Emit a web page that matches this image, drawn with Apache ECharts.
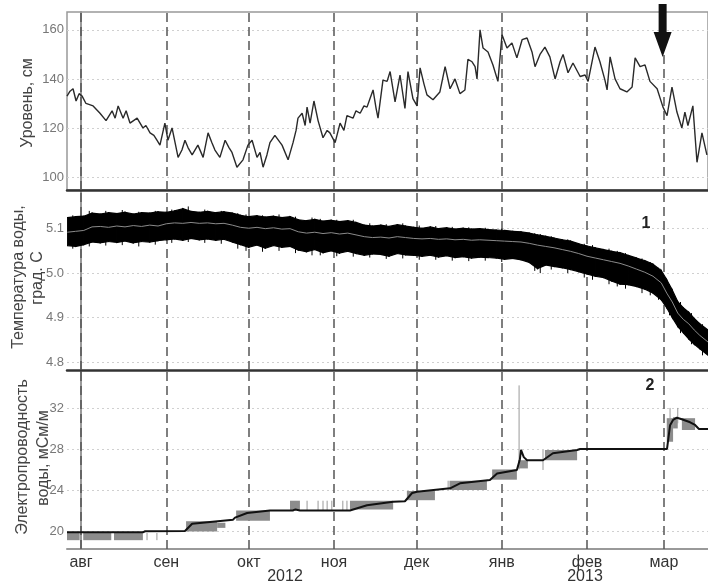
<!DOCTYPE html>
<html>
<head>
<meta charset="utf-8">
<script src="https://cdn.jsdelivr.net/npm/echarts@6/dist/echarts.min.js"></script>
<style>
  html, body { margin: 0; padding: 0; background: #fff; }
  #chart { width: 708px; height: 581px; }
</style>
</head>
<body>
<div id="chart"></div>
<script>
// x axis: days counted from 1 Aug 2012
const monthDays = [0, 31, 61, 92, 122, 153, 184, 212];
const monthLabels = ['авг', 'сен', 'окт', 'ноя', 'дек', 'янв', 'фев', 'мар'];
const levelTicks = [100, 120, 140, 160];
const tempTicks = [4.8, 4.9, 5.0, 5.1];
const condTicks = [20, 24, 28, 32];

// уровень, см
const levelDays = [-5.1, -4, -2.9, -1.8, -0.7, 0.4, 1.8, 4.4, 6.9, 9.1, 11.3, 12.4, 13.5, 15.3, 16.4, 17.8, 20.4, 22.5,
  23.6, 25.1, 26.5, 27.6, 28.7, 30.5, 31.6, 33.1, 34.2, 35.3, 36.7, 37.8, 38.9, 40.4, 42.5, 44.4, 46.2, 47.6, 48.7,
  50.5, 52.4, 53.8, 54.9, 56.7, 58.9, 60.7, 62.2, 64, 65.1, 66.2, 67.6, 68.7, 70.5, 73.1, 75.3, 77.1, 78.2, 78.9,
  80.4, 81.5, 82.2, 83.3, 84.7, 86.2, 88, 89.5, 90.5, 92.4, 94.2, 95.6, 96.7, 98.9, 100, 101.5, 102.9, 104, 105.1,
  106.2, 107.3, 108, 108.7, 109.8, 111.3, 112.4, 114.2, 116, 117.8, 118.9, 120.7, 122.2, 123.3, 124.7, 125.8, 128,
  130.5, 132.4, 134.2, 136, 137.8, 139.6, 140.7, 142.2, 143.3, 144, 145.1, 146.2, 148, 149.8, 151.6, 153.1, 154.9,
  156.7, 158.5, 160.4, 162.2, 164, 165.1, 166.9, 168.7, 170.5, 172.4, 174.2, 175.3, 177.1, 178.9, 181.5, 183.3,
  184.4, 186.9, 188.7, 190.5, 191.3, 192.4, 194.2, 196, 198.5, 200.4, 201.5, 203.3, 205.1, 206.9, 209.5, 211.6,
  213.1, 214.9, 216.7, 218.5, 219.6, 220.7, 222.5, 224, 225.8, 227.6];
const levelValues = [133, 135, 136, 131, 134, 133, 130, 129, 126, 123, 127, 124, 129, 124, 127, 122, 124, 120,
  121, 118, 117, 115, 113, 122, 115, 120, 114, 108, 111, 115, 112, 109, 113, 108, 118, 114, 111,
  108, 115, 112, 110, 104, 107, 113, 115, 108, 110, 104, 109, 114, 117, 113, 107, 114, 119, 124,
  126, 121, 128.5, 122, 131, 123, 116, 119, 118, 114, 122, 119, 125, 124, 127, 126, 129, 128.5, 132,
  135.5, 128, 124, 124, 139.5, 139, 143, 130.6, 141.6, 128, 143, 132, 129, 144.5, 138, 133.5, 131.5,
  134.7, 145, 136, 140, 134, 135.5, 148, 147, 145, 140, 160, 152.6, 151, 145.7, 139, 158, 152.6,
  154.7, 148.6, 156, 156.7, 151, 145, 150, 153, 149, 140, 147, 150, 142.5, 146.5, 141, 141.6,
  139, 153, 147, 139.6, 135.5, 149, 140, 136, 134.7, 136.7, 148.6, 145, 145.7, 139, 136, 128.6,
  125, 136.7, 126.5, 120, 126.5, 121, 129, 106, 118, 109];

// температура воды, град. С: сглаженная кривая и огибающие разброса
const tempDays = [-5, -2, 1, 4, 7, 10, 13, 16, 19, 22, 25, 28, 31, 34, 37, 40, 43, 46, 49, 52, 55, 58, 61, 64, 67,
  70, 73, 76, 79, 82, 85, 88, 91, 94, 97, 100, 103, 106, 109, 112, 115, 118, 121, 124, 127, 130, 133, 136, 139, 142,
  145, 148, 151, 154, 157, 160, 163, 166, 169, 172, 175, 178, 181, 184, 187, 190, 193, 196, 199, 202, 205, 208, 211,
  213, 215, 217, 219, 221, 223, 225, 228];
const tempMean = [5.092, 5.094, 5.096, 5.104, 5.105, 5.103, 5.106, 5.104, 5.107, 5.105, 5.108, 5.106, 5.111, 5.113,
  5.112, 5.114, 5.112, 5.113, 5.111, 5.112, 5.108, 5.103, 5.101, 5.103, 5.100, 5.102, 5.099, 5.100, 5.093, 5.090,
  5.092, 5.089, 5.091, 5.088, 5.090, 5.086, 5.082, 5.080, 5.081, 5.079, 5.082, 5.080, 5.078, 5.077, 5.078, 5.076,
  5.077, 5.075, 5.076, 5.074, 5.075, 5.074, 5.073, 5.072, 5.071, 5.070, 5.067, 5.063, 5.060, 5.057, 5.053, 5.049,
  5.044, 5.038, 5.034, 5.030, 5.026, 5.022, 5.016, 5.009, 5.002, 4.993, 4.978, 4.955, 4.935, 4.910, 4.896, 4.886,
  4.872, 4.860, 4.845];
const tempHigh = [5.125, 5.127, 5.128, 5.135, 5.133, 5.136, 5.134, 5.137, 5.133, 5.136, 5.135, 5.138, 5.137, 5.140,
  5.145, 5.139, 5.137, 5.139, 5.136, 5.138, 5.135, 5.130, 5.127, 5.129, 5.126, 5.128, 5.125, 5.127, 5.120, 5.118,
  5.121, 5.117, 5.119, 5.116, 5.118, 5.114, 5.108, 5.106, 5.108, 5.105, 5.109, 5.106, 5.103, 5.101, 5.104, 5.100,
  5.102, 5.099, 5.101, 5.099, 5.100, 5.098, 5.097, 5.096, 5.094, 5.093, 5.090, 5.086, 5.083, 5.079, 5.075, 5.072,
  5.066, 5.061, 5.057, 5.053, 5.049, 5.046, 5.040, 5.034, 5.028, 5.020, 5.006, 4.985, 4.962, 4.936, 4.922, 4.912,
  4.898, 4.886, 4.872];
const tempLow = [5.062, 5.060, 5.064, 5.070, 5.068, 5.071, 5.069, 5.072, 5.068, 5.071, 5.070, 5.073, 5.075, 5.077,
  5.074, 5.078, 5.075, 5.077, 5.074, 5.076, 5.070, 5.064, 5.058, 5.063, 5.056, 5.062, 5.058, 5.060, 5.052, 5.048,
  5.053, 5.046, 5.050, 5.045, 5.049, 5.044, 5.040, 5.043, 5.042, 5.038, 5.044, 5.041, 5.040, 5.038, 5.040, 5.036,
  5.039, 5.035, 5.037, 5.034, 5.036, 5.035, 5.034, 5.031, 5.033, 5.030, 5.024, 5.010, 5.018, 5.015, 5.012, 5.008,
  5.003, 4.998, 4.993, 4.990, 4.982, 4.975, 4.974, 4.970, 4.964, 4.955, 4.940, 4.922, 4.900, 4.880, 4.866, 4.852,
  4.840, 4.830, 4.815];
// отдельные выбросы температуры: [день, низ, верх]
const tempSpikes = [
  [-3, 5.055, 5.13], [3, 5.06, 5.14], [9, 5.062, 5.14], [15, 5.063, 5.142], [21, 5.06, 5.138], [27, 5.064, 5.14],
  [33, 5.068, 5.143], [39, 5.07, 5.15], [45, 5.068, 5.143], [51, 5.066, 5.14], [57, 5.055, 5.135], [60, 5.05, 5.132],
  [66, 5.048, 5.13], [72, 5.05, 5.132], [78, 5.045, 5.127], [84, 5.04, 5.125], [87, 5.04, 5.122], [93, 5.038, 5.12],
  [99, 5.037, 5.12], [105, 5.035, 5.112], [111, 5.032, 5.11], [117, 5.033, 5.112], [123, 5.03, 5.107],
  [129, 5.03, 5.106], [135, 5.028, 5.104], [141, 5.027, 5.103], [147, 5.028, 5.102], [153, 5.025, 5.1],
  [165, 5.005, 5.09], [167, 5.0, 5.088], [171, 5.008, 5.083], [177, 5.0, 5.076], [183, 4.99, 5.066],
  [186, 4.985, 5.063], [192, 4.975, 5.055], [195, 4.97, 5.05], [198, 4.965, 5.045], [204, 4.955, 5.033],
  [207, 4.95, 5.025], [210, 4.94, 5.012], [214, 4.905, 4.975], [218, 4.865, 4.935], [222, 4.84, 4.91],
  [226, 4.815, 4.885]
];

// электропроводность воды, мСм/м
const condDays = [-5.1, 22.5, 23.3, 37.8, 40.4, 55.3, 56, 60.4, 68.7, 77, 78, 79.6, 97.8, 104, 113.5, 117.8, 120.4,
  122.2, 134.2, 137.8, 148.7, 151.3, 158.5, 159.6, 160, 161, 162.2, 168, 171.6, 180.4, 181.5, 213.1, 214.2, 215.3,
  216.7, 218.5, 221.5, 223.3, 224.7, 228];
const condValues = [19.87, 19.87, 19.97, 20.0, 20.7, 21.1, 21.3, 21.75, 22.0, 22.0, 22.1, 22.0, 22.0, 22.5, 22.85,
  22.9, 23.7, 23.83, 24.16, 24.65, 24.97, 25.6, 25.95, 27.0, 27.9, 27.2, 26.9, 26.9, 27.58, 27.9, 28.0, 28.0, 30.3,
  30.83, 31.05, 30.9, 30.6, 30.34, 29.95, 29.95];
// серые блоки исходных отсчётов: [день начала, день конца, низ, верх]
const condBlocks = [
  [-5.1, -0.5, 19.1, 19.8], [0.8, 11, 19.1, 19.8], [12, 22.5, 19.1, 19.8],
  [38.2, 49.5, 19.95, 20.95], [49.5, 52.5, 20.3, 20.8],
  [56.4, 68.7, 21.0, 22.0],
  [76, 79.6, 22.05, 22.95], [97.8, 113.5, 22.1, 22.95],
  [118.5, 128.7, 23.0, 23.9], [134, 147.6, 24.0, 24.9], [149.5, 158.5, 25.0, 26.0], [159, 162.5, 26.1, 26.9],
  [168.7, 180.4, 26.9, 27.9], [213, 215.3, 28.7, 31.0], [215.3, 217, 30.0, 31.1], [218.5, 223.3, 29.85, 31.0]
];
// тонкие одиночные выбросы: [день, низ, верх]
const condSpikes = [
  [24, 19.1, 19.8], [27.6, 19.1, 19.8], [82.2, 22.05, 22.95], [86.2, 22.05, 22.95], [88, 22.05, 22.95],
  [89.5, 22.05, 22.95], [91.2, 22.05, 22.95], [95.2, 22.05, 22.95], [96.7, 22.05, 22.95], [133.5, 24.0, 24.9],
  [159.3, 26.0, 34.2], [168, 25.95, 27.9], [214.2, 30.0, 32.0], [217, 30.5, 32.0]
];

const arrowDay = 211.5;
const FONT = 'Liberation Sans, Arial, sans-serif';

// band segments between neighbouring samples: [d0, lo0, hi0, d1, lo1, hi1]
const tempBand = tempDays.slice(1).map((d, i) =>
  [tempDays[i], tempLow[i], tempHigh[i], d, tempLow[i + 1], tempHigh[i + 1]]);

function guideLines(ticks) {
  return {
    silent: true,
    symbol: 'none',
    z: 1,
    animation: false,
    label: { show: false },
    emphasis: { disabled: true },
    data: ticks.map(v => ({ yAxis: v, lineStyle: { type: [2, 3], color: '#d0d0d0', width: 1 } }))
      .concat(monthDays.map(d => ({ xAxis: d, lineStyle: { type: [9, 5], color: '#555', width: 1.5 } })))
  };
}

// vertical hairlines [day, low, high]
function spikeSeries(xi, data, color, z) {
  return {
    type: 'custom', xAxisIndex: xi, yAxisIndex: xi, z: z, clip: true,
    encode: { x: 0, y: [1, 2] },
    renderItem: (params, api) => {
      const a = api.coord([api.value(0), api.value(1)]);
      const b = api.coord([api.value(0), api.value(2)]);
      return {
        type: 'line',
        shape: { x1: a[0], y1: a[1], x2: b[0], y2: b[1] },
        style: { stroke: color, lineWidth: 1 }
      };
    },
    data: data
  };
}

function xAxisFor(gridIndex, showLabels, lineColor, lineWidth) {
  return {
    type: 'value', gridIndex: gridIndex, min: -5.1, max: 228,
    axisLine: { show: true, lineStyle: { color: lineColor, width: lineWidth } },
    axisTick: { show: false },
    splitLine: { show: false },
    axisLabel: {
      show: showLabels, customValues: monthDays, margin: 6,
      color: '#333', fontSize: 16, fontFamily: FONT,
      formatter: v => monthLabels[monthDays.indexOf(v)] || ''
    }
  };
}

function yAxisFor(gridIndex, min, max, ticks, fmt) {
  return {
    type: 'value', gridIndex: gridIndex, min: min, max: max,
    axisLine: { show: true, lineStyle: { color: '#999', width: 2 } },
    axisTick: { show: false },
    splitLine: { show: false },
    axisLabel: { customValues: ticks, margin: 3, color: '#777', fontSize: 13, fontFamily: FONT, formatter: fmt }
  };
}

const chart = echarts.init(document.getElementById('chart'));
const option = {
  animation: false,
  backgroundColor: '#fff',
  grid: [
    { left: 67, right: -2, top: 12, height: 178, show: true, borderColor: '#999', borderWidth: 1.5 },
    { left: 67, right: -2, top: 190, height: 180 },
    { left: 67, right: -2, top: 370, height: 179 }
  ],
  xAxis: [
    xAxisFor(0, false, '#333', 2.5),
    xAxisFor(1, false, '#333', 2.5),
    xAxisFor(2, true, '#999', 2)
  ],
  yAxis: [
    yAxisFor(0, 94.7, 167.3, levelTicks, v => String(v)),
    yAxisFor(1, 4.782, 5.187, tempTicks, v => v.toFixed(1)),
    yAxisFor(2, 18.24, 35.7, condTicks, v => String(v))
  ],
  series: [
    {
      name: 'Уровень',
      type: 'line', xAxisIndex: 0, yAxisIndex: 0, z: 3,
      showSymbol: false, symbol: 'none',
      lineStyle: { color: '#2a2a2a', width: 1.4 },
      data: levelDays.map((d, i) => [d, levelValues[i]]),
      markLine: guideLines(levelTicks),
      markPoint: {
        silent: true,
        symbol: 'path://M5,0 L13,0 L13,28 L18,28 L9,53 L0,28 L5,28 Z',
        symbolSize: [18, 53],
        itemStyle: { color: '#111' },
        label: { show: false },
        data: [{ coord: [arrowDay, 159.8] }]
      }
    },
    {
      name: 'tempBand',
      type: 'custom', xAxisIndex: 1, yAxisIndex: 1, z: 3, clip: true,
      encode: { x: [0, 3], y: [1, 2, 4, 5] },
      renderItem: (params, api) => {
        const a = api.coord([api.value(0), api.value(2)]);
        const b = api.coord([api.value(3), api.value(5)]);
        const c = api.coord([api.value(3), api.value(4)]);
        const d = api.coord([api.value(0), api.value(1)]);
        return {
          type: 'polygon',
          shape: { points: [a, b, c, d] },
          style: { fill: '#000', stroke: '#000', lineWidth: 1.2 }
        };
      },
      data: tempBand,
      markLine: guideLines(tempTicks)
    },
    spikeSeries(1, tempSpikes, '#000', 3),
    {
      name: 'Температура',
      type: 'line', xAxisIndex: 1, yAxisIndex: 1, z: 4,
      showSymbol: false, symbol: 'none',
      lineStyle: { color: '#8a8a8a', width: 1 },
      data: tempDays.map((d, i) => [d, tempMean[i]])
    },
    {
      name: 'condBlocks',
      type: 'custom', xAxisIndex: 2, yAxisIndex: 2, z: 2, clip: true,
      encode: { x: [0, 1], y: [2, 3] },
      renderItem: (params, api) => {
        const p0 = api.coord([api.value(0), api.value(3)]);
        const p1 = api.coord([api.value(1), api.value(2)]);
        return {
          type: 'rect',
          shape: { x: p0[0], y: p0[1], width: p1[0] - p0[0], height: p1[1] - p0[1] },
          style: { fill: '#8c8c8c' }
        };
      },
      data: condBlocks,
      markLine: guideLines(condTicks)
    },
    spikeSeries(2, condSpikes, '#999', 2),
    {
      name: 'Электропроводность',
      type: 'line', xAxisIndex: 2, yAxisIndex: 2, z: 4,
      showSymbol: false, symbol: 'none',
      lineStyle: { color: '#111', width: 2 },
      data: condDays.map((d, i) => [d, condValues[i]])
    }
  ],
  graphic: [
    { type: 'text', x: 28, y: 103, rotation: Math.PI / 2,
      style: { text: 'Уровень, см', font: '16px ' + FONT, fill: '#444', textAlign: 'center', textVerticalAlign: 'middle' } },
    { type: 'text', x: 18.5, y: 277, rotation: Math.PI / 2,
      style: { text: 'Температура воды,', font: '16px ' + FONT, fill: '#444', textAlign: 'center', textVerticalAlign: 'middle' } },
    { type: 'text', x: 37.5, y: 278, rotation: Math.PI / 2,
      style: { text: 'град. С', font: '16px ' + FONT, fill: '#444', textAlign: 'center', textVerticalAlign: 'middle' } },
    { type: 'text', x: 23, y: 457, rotation: Math.PI / 2,
      style: { text: 'Электропроводность', font: '16px ' + FONT, fill: '#444', textAlign: 'center', textVerticalAlign: 'middle' } },
    { type: 'text', x: 44, y: 458, rotation: Math.PI / 2,
      style: { text: 'воды, мСм/м', font: '16px ' + FONT, fill: '#444', textAlign: 'center', textVerticalAlign: 'middle' } },
    { type: 'text', x: 646, y: 224, z: 10,
      style: { text: '1', font: 'bold 16px ' + FONT, fill: '#222', textAlign: 'center', textVerticalAlign: 'middle' } },
    { type: 'text', x: 650, y: 386, z: 10,
      style: { text: '2', font: 'bold 16px ' + FONT, fill: '#222', textAlign: 'center', textVerticalAlign: 'middle' } },
    { type: 'text', x: 285, y: 577,
      style: { text: '2012', font: '16px ' + FONT, fill: '#333', textAlign: 'center', textVerticalAlign: 'middle' } },
    { type: 'text', x: 585, y: 577,
      style: { text: '2013', font: '16px ' + FONT, fill: '#333', textAlign: 'center', textVerticalAlign: 'middle' } }
  ]
};
chart.setOption(option);
window.addEventListener('resize', () => {
  chart.resize();
});
</script>
</body>
</html>
